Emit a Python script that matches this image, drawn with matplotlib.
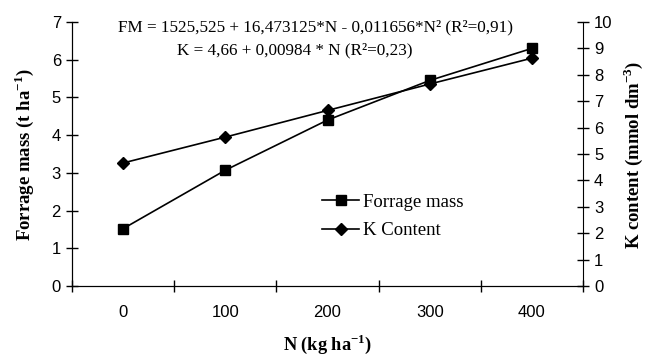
import matplotlib
matplotlib.use("Agg")
import matplotlib.pyplot as plt
import numpy as np

categories = ["0", "100", "200", "300", "400"]
forage_mass = [1.52, 3.07, 4.40, 5.45, 6.30]
k_content = [4.66, 5.64, 6.65, 7.65, 8.63]

plt.rcParams['mathtext.fontset'] = 'custom'
plt.rcParams['mathtext.rm'] = 'Liberation Serif:bold'
plt.rcParams['mathtext.bf'] = 'Liberation Serif:bold'

fig = plt.figure(figsize=(6.47, 3.58), dpi=100)
ax = fig.add_axes([72/647, 1-286/358, (583-72)/647, (286-22)/358])
ax2 = ax.twinx()

x = np.arange(len(categories))
l1, = ax.plot(x, forage_mass, color='black', marker='s', markersize=7, lw=1.2, label='Forrage mass')
l2, = ax2.plot(x, k_content, color='black', marker='D', markersize=6, lw=1.2, label='K Content')

ax.set_xlim(-0.5, 4.5)
ax.set_ylim(0, 7)
ax2.set_ylim(0, 10)
ax.set_yticks(range(0, 8))
ax2.set_yticks(range(0, 11))
ax.set_xticks(x)
ax.set_xticklabels(categories)
ax.set_xticks(np.arange(-0.5, 5, 1), minor=True)
ax.tick_params(axis='x', which='major', length=0, pad=14, labelsize=12)
ax.tick_params(axis='x', which='minor', direction='inout', length=8, width=1)
ax.tick_params(axis='y', direction='inout', length=8, width=1, labelsize=12, pad=4)
ax2.tick_params(axis='y', direction='inout', length=8, width=1, labelsize=12, pad=4)
for a in (ax, ax2):
    for lab in a.get_xticklabels() + a.get_yticklabels():
        lab.set_fontfamily('Liberation Sans')
    a.spines['top'].set_visible(False)
ax.spines['right'].set_visible(False)

fig.text(24/647, 1-155/358, "Forrage mass (t ha$^{-1}$)", rotation=90, ha='center', va='center',
         family='Liberation Serif', weight='bold', fontsize=13.5)
fig.text(633/647, 1-155/358, "K content (mmol dm$^{-3}$)", rotation=90, ha='center', va='center',
         family='Liberation Serif', weight='bold', fontsize=13.5)
fig.text(328/647, 2/358, "N (kg ha$^{-1}$)", ha='center', va='bottom',
         family='Liberation Serif', weight='bold', fontsize=13.2)

fig.text(118/647, 1-27/358, "FM = 1525,525 + 16,473125*N - 0,011656*N² (R²=0,91)", ha='left', va='center',
         family='Liberation Serif', fontsize=12.3)
fig.text(177/647, 1-50/358, "K = 4,66 + 0,00984 * N (R²=0,23)", ha='left', va='center',
         family='Liberation Serif', fontsize=12.3)

leg = ax.legend([l1, l2], ['Forrage mass', 'K Content'], loc='upper left',
                bbox_to_anchor=(305/647, 1-177/358), bbox_transform=fig.transFigure,
                frameon=False, prop={'family': 'Liberation Serif', 'size': 13.5},
                handlelength=2.0, handletextpad=0.2, labelspacing=0.6)

fig.savefig("out.png", dpi=100)
